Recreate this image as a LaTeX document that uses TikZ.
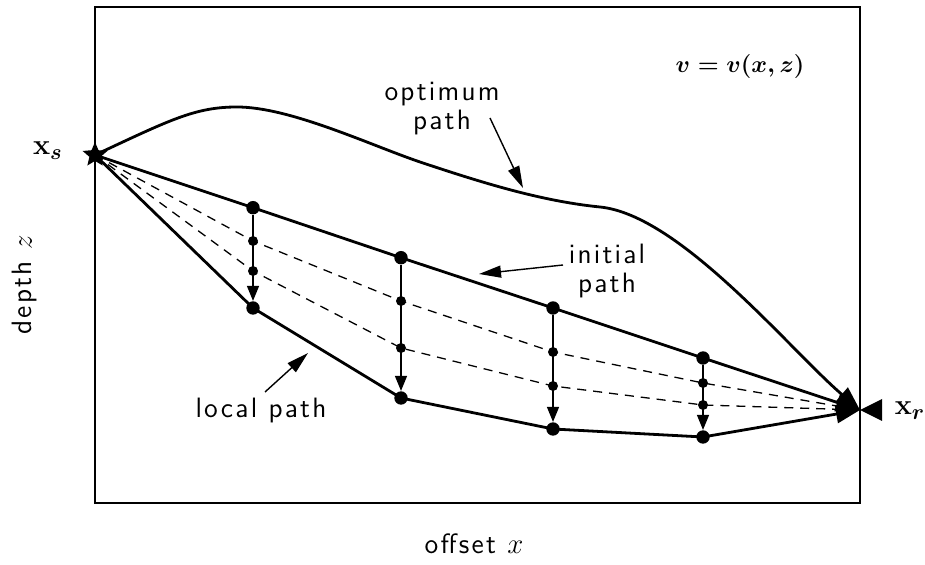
\documentclass[tikz,border=0pt]{standalone}
\usepackage{fontspec}
\setsansfont{Latin Modern Sans}[LetterSpace=8]
\usetikzlibrary{arrows.meta,shapes.geometric}
\begin{document}
\begin{tikzpicture}[x=0.5pt,y=-0.5pt,
  lbl/.style={font=\fontsize{14}{14.5}\selectfont\sffamily, inner sep=0pt},
  mathlbl/.style={font=\fontsize{15}{18}\selectfont\boldmath, inner sep=0pt},
  eqlbl/.style={font=\fontsize{12.5}{15}\selectfont\boldmath, inner sep=0pt},
  bigdot/.style={circle, fill=black, minimum size=6.7pt, inner sep=0pt},
  smalldot/.style={circle, fill=black, minimum size=5pt, inner sep=0pt},
  thickline/.style={line width=1.4pt, line join=round},
  thinline/.style={line width=0.7pt},
  dashline/.style={line width=0.65pt, dash pattern=on 4.5pt off 3.5pt},
  bighead/.style={-{Triangle[length=12pt,width=9pt]}},
  smallhead/.style={-{Triangle[length=7.5pt,width=6pt]}},
  notehead/.style={-{Triangle[length=11pt,width=6pt]}}
]
\useasboundingbox (0,0) rectangle (925,565);
% frame
\draw[line width=1pt] (95,7) rectangle (860,503);
% source and receiver
\node[star, star points=5, star point ratio=2.2, fill=black, minimum size=13pt, inner sep=0pt] (xs) at (95,155) {};
\coordinate (xr) at (860,410);
% dots
\node[bigdot] (t1) at (253,207.7) {};
\node[bigdot] (t2) at (401,257.7) {};
\node[bigdot] (t3) at (553,308) {};
\node[bigdot] (t4) at (703,358) {};
\node[bigdot] (b1) at (253,308) {};
\node[bigdot] (b2) at (401,398) {};
\node[bigdot] (b3) at (553,429) {};
\node[bigdot] (b4) at (703,437) {};
\node[smalldot] (a1) at (253,241) {};
\node[smalldot] (a2) at (401,301) {};
\node[smalldot] (a3) at (553,352) {};
\node[smalldot] (a4) at (703,383) {};
\node[smalldot] (c1) at (253,271) {};
\node[smalldot] (c2) at (401,348) {};
\node[smalldot] (c3) at (553,386) {};
\node[smalldot] (c4) at (703,405) {};
% paths
\draw[thickline, bighead] (xs.center) -- (t1.center) -- (t2.center) -- (t3.center) -- (t4.center) -- (xr);
\draw[thickline, bighead] (xs.center) -- (b1.center) -- (b2.center) -- (b3.center) -- (b4.center) -- (xr);
\draw[dashline] (xs.center) -- (a1.center) -- (a2.center) -- (a3.center) -- (a4.center) -- (xr);
\draw[dashline] (xs.center) -- (c1.center) -- (c2.center) -- (c3.center) -- (c4.center) -- (xr);
\draw[thickline, bighead] (xs.center) .. controls (170,120) and (195,107) .. (237,107)
  .. controls (290,107) and (370,145) .. (420,162)
  .. controls (480,182) and (540,201) .. (600,207)
  .. controls (680,215) and (790,350) .. (xr);
% vertical arrows
\draw[thinline, smallhead] (t1) -- (b1);
\draw[thinline, smallhead] (t2) -- (b2);
\draw[thinline, smallhead] (t3) -- (b3);
\draw[thinline, smallhead] (t4) -- (b4);
% receiver symbol
\fill (xr) -- ++(22,-11) -- ++(0,22) -- cycle;
% labels
\node[lbl, align=center] (optl) at (442,109) {optimum\\path};
\node[lbl, align=center] (inil) at (607,271) {initial\\path};
\node[lbl, anchor=base] (locl) at (261,418) {local path};
\node[lbl, anchor=base] (offl) at (474,553) {offset $x$};
\node[lbl, anchor=base, rotate=90] (depl) at (32,285) {depth $z$};
\node[mathlbl, anchor=base] (xsl) at (48,155) {$\mathbf{x}_s$};
\node[mathlbl, anchor=base] (xrl) at (910,415) {$\mathbf{x}_r$};
\node[eqlbl, anchor=base] (vl) at (740,73) {$v = v(x,z)$};
% annotation arrows
\coordinate (optT) at (490,118);
\coordinate (optH) at (523,188);
\coordinate (iniT) at (563,265);
\coordinate (iniH) at (479,274);
\coordinate (locT) at (265,392);
\coordinate (locH) at (308,353);
\draw[thinline, notehead] (optT) -- (optH);
\draw[thinline, notehead] (iniT) -- (iniH);
\draw[thinline, notehead] (locT) -- (locH);
\end{tikzpicture}
\end{document}
